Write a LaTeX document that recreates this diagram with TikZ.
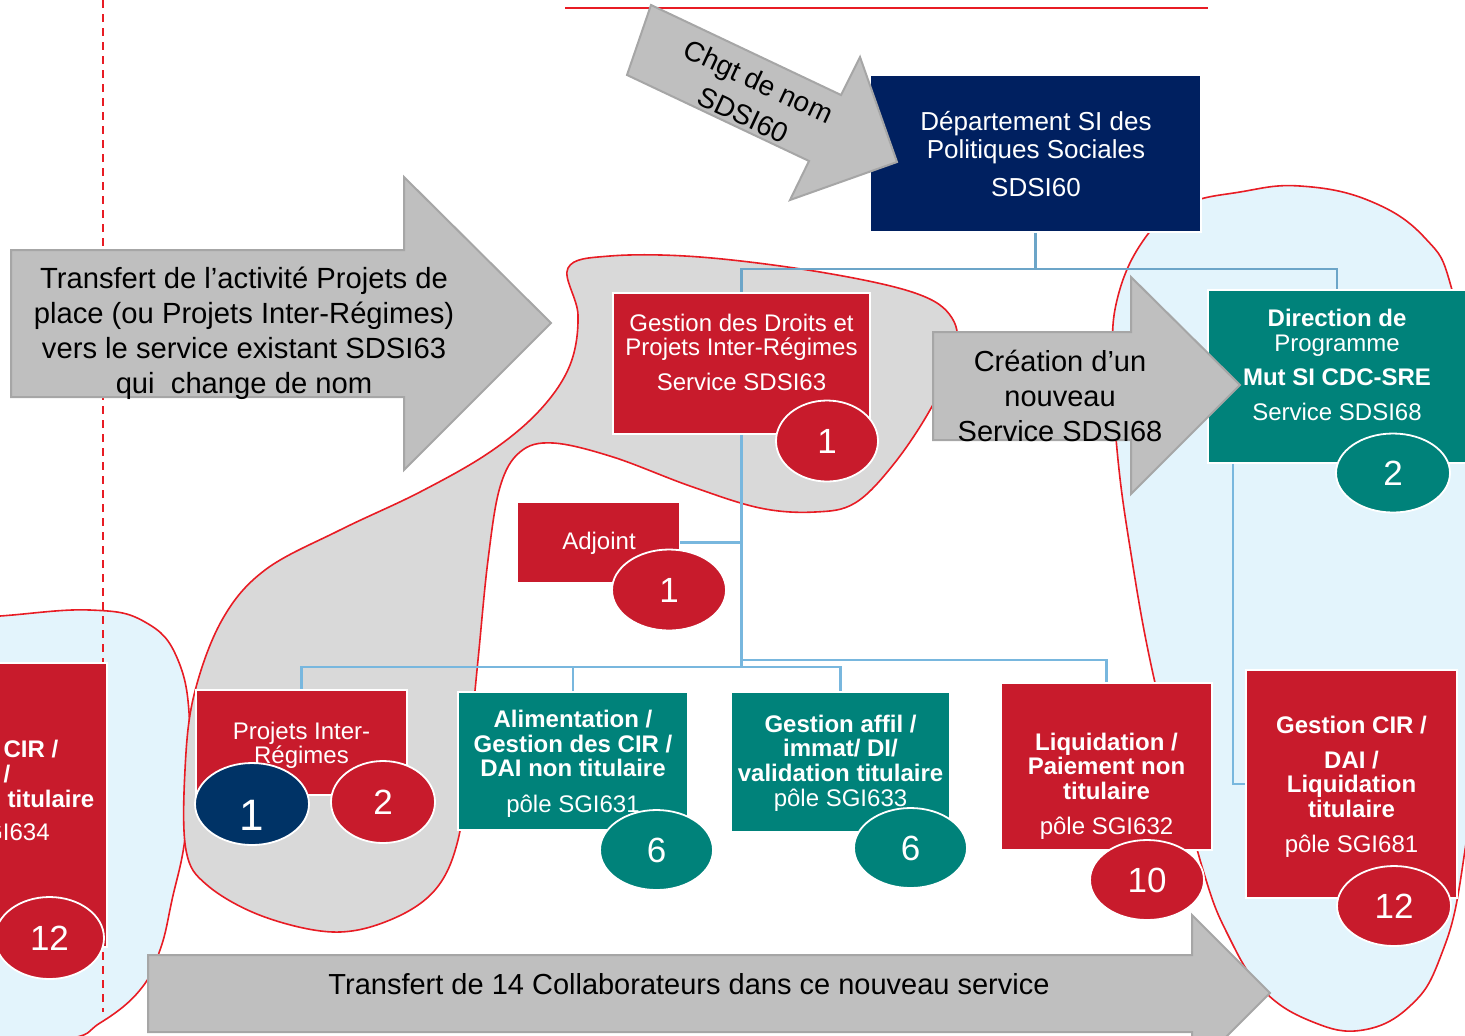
\documentclass[tikz,border=0pt]{standalone}
\usepackage{fontspec}
\setmainfont{Liberation Sans}
\usetikzlibrary{shapes.geometric}
\definecolor{rbox}{RGB}{200,27,44}
\definecolor{tbox}{RGB}{0,130,122}
\definecolor{nbox}{RGB}{0,32,96}
\definecolor{nell}{RGB}{0,51,102}
\definecolor{garr}{RGB}{191,191,191}
\definecolor{gbord}{RGB}{166,166,166}
\definecolor{gblob}{RGB}{217,217,217}
\definecolor{lblob}{RGB}{227,244,252}
\definecolor{connc}{RGB}{120,183,222}
\definecolor{conntop}{RGB}{108,165,200}
\definecolor{bred}{RGB}{232,28,36}
\begin{document}
\begin{tikzpicture}[x=0.5pt,y=-0.5pt,
  box/.style={draw=white, line width=0.9pt, inner sep=0pt},
  ell/.style={ellipse, draw=white, line width=0.9pt, inner sep=0pt, text=white, font=\fontsize{17.5}{20}\selectfont},
  wt/.style={text=white, align=center, inner sep=0pt},
  bt/.style={text=black, align=center, inner sep=0pt},
  conn/.style={draw=connc, line width=1.3pt},
  conn2/.style={draw=conntop, line width=1.3pt},
  garrow/.style={fill=garr, draw=gbord, line width=1pt},
  blobline/.style={draw=bred, line width=0.8pt}]
\useasboundingbox (0,0) rectangle (1465,1035);
\clip (0,0) rectangle (1465,1035);

% blobs
\draw[blobline, fill=lblob] plot[smooth cycle, tension=0.7] coordinates {
 (-80,622) (0,616) (90,610) (145,622) (178,660) (190,730) (186,830) (172,900) (160,950) (140,990) (100,1023) (60,1040) (-80,1050)};
\draw[blobline, fill=lblob] plot[smooth cycle, tension=0.7] coordinates {
 (1145,238) (1185,205) (1240,192) (1300,186) (1370,201) (1425,238) (1452,290) (1475,420) (1478,700) (1462,870) (1440,958) (1410,1006) (1363,1030) (1313,1022) (1263,990) (1228,935) (1203,870) (1172,750) (1150,660) (1132,560) (1118,460) (1113,370) (1117,300)};
\draw[blobline, fill=gblob] plot[smooth cycle, tension=0.6] coordinates {
 (568,268) (610,256) (700,257) (820,272) (915,293) (952,318) (955,355) (930,410) (893,465) (855,503) (815,512) (760,508) (690,486) (613,457) (553,443) (520,452) (500,487) (488,560) (478,660) (468,760) (458,840) (435,890) (390,920) (333,932) (262,916) (207,885) (186,850) (185,770) (194,695) (222,620) (265,570) (340,530) (420,492) (490,452) (540,410) (570,365) (578,315)};

% red lines
\draw[draw=bred, line width=0.8pt] (565,8) -- (1208,8);
\draw[draw=bred, line width=0.8pt, dash pattern=on 4pt off 3pt] (103,0) -- (103,1012);

% boxes
\node[box, fill=nbox, minimum width=165.5pt, minimum height=78.5pt] (dep) at (1035.5,153.5) {};
\node[box, fill=rbox, minimum width=128.5pt, minimum height=70.5pt] (s63) at (741.5,363.5) {};
\node[box, draw=none, fill=rbox, minimum width=80.5pt, minimum height=39.5pt] (adj) at (598.5,542.5) {};
\node[box, fill=rbox, minimum width=105.5pt, minimum height=52.5pt] (pir) at (301.5,742.5) {};
\node[box, fill=tbox, minimum width=115pt, minimum height=69pt] (ali) at (573,761) {};
\node[box, fill=tbox, minimum width=109.5pt, minimum height=70pt] (aff) at (840.5,762) {};
\node[box, fill=rbox, minimum width=105.5pt, minimum height=83.5pt] (liq) at (1106.5,766.5) {};
\node[box, fill=rbox, minimum width=105.5pt, minimum height=114pt] (gcir) at (1351.5,784) {};
\node[box, fill=tbox, minimum width=129pt, minimum height=86.5pt] (dir) at (1337,376.5) {};
\node[box, fill=rbox, minimum width=123.5pt, minimum height=142pt] (lbox) at (-16.5,805) {};

% connectors
\draw[conn2] (dep.south) -- ++(0,36) -| (s63.north);
\draw[conn2] (dep.south) ++(0,36) -| (dir.north);
\coordinate (hubL) at (741.5,667);
\coordinate (hubR) at (741.5,660);
\draw[conn] (s63.south) -- (hubL);
\draw[conn] (hubL) -| (pir.north);
\draw[conn] (hubL) -| (aff.north);
\draw[conn] (ali.north) -- (ali.north |- hubL);
\draw[conn] (hubR) -| (liq.north);
\draw[conn] (adj.east) -- (adj.east -| s63.south);
\draw[conn] (dir.south west) ++(26,0) |- (gcir.west);

% box texts
\node[wt, font=\fontsize{13}{14}\selectfont] (depT) at (1036,154) {Département SI des\\Politiques Sociales\\[5pt]SDSI60};
\node[wt, font=\fontsize{12}{12}\selectfont] (s63T) at (741.5,352) {Gestion des Droits et\\Projets Inter-Régimes\\[5.5pt]Service SDSI63};
\node[wt, font=\fontsize{12}{12}\selectfont] (adjT) at (599,543) {Adjoint};
\node[wt, font=\fontsize{12}{12}\selectfont] (pirT) at (301.5,745) {Projets Inter-\\Régimes};
\node[wt, font=\fontsize{12}{12.25}\selectfont] (aliT) at (573,764) {\textbf{Alimentation /}\\\textbf{Gestion des CIR /}\\\textbf{DAI non titulaire}\\[5.75pt]pôle SGI631};
\node[wt, font=\fontsize{12}{12.35}\selectfont] (affT) at (840.5,763) {\textbf{Gestion affil /}\\\textbf{immat/ DI/}\\\textbf{validation titulaire}\\pôle SGI633};
\node[wt, font=\fontsize{12}{12.25}\selectfont] (liqT) at (1106.5,786) {\textbf{Liquidation /}\\\textbf{Paiement non}\\\textbf{titulaire}\\[5.25pt]pôle SGI632};
\node[wt, font=\fontsize{12}{12.25}\selectfont] (gcirT) at (1351.5,787) {\textbf{Gestion CIR /}\\[5.25pt]\textbf{DAI /}\\\textbf{Liquidation}\\\textbf{titulaire}\\[5.5pt]pôle SGI681};
\node[wt, font=\fontsize{12}{12.5}\selectfont] (dirT) at (1337,365) {\textbf{Direction de}\\Programme\\[4.5pt]\textbf{Mut SI CDC-SRE}\\[5pt]Service SDSI68};
\node[wt, font=\fontsize{12}{12.5}\selectfont] (lboxT) at (-17,793) {\textbf{Gestion CIR /}\\\textbf{DAI /}\\\textbf{Liquidation titulaire}\\[4pt]pôle SGI634};

% ellipses
\node[ell, fill=rbox, minimum width=51pt, minimum height=40.5pt] (e63) at (827,441) {1};
\node[ell, fill=rbox, minimum width=57pt, minimum height=40.5pt] (eadj) at (669,590) {1};
\node[ell, fill=nell, minimum width=57pt, minimum height=41pt] (epir1) at (252,804) {};
\node[text=white, inner sep=0pt, font=\fontsize{22}{24}\selectfont] (epir1T) at (252,815) {1};
\node[ell, fill=rbox, minimum width=52pt, minimum height=41pt] (epir2) at (383,802) {2};
\node[ell, fill=tbox, minimum width=56.5pt, minimum height=40pt] (eali) at (656.5,850) {6};
\node[ell, fill=tbox, minimum width=56.5pt, minimum height=40pt] (eaff) at (910.5,848) {6};
\node[ell, fill=rbox, minimum width=57pt, minimum height=40pt] (eliq) at (1147,880) {10};
\node[ell, fill=rbox, minimum width=57pt, minimum height=40pt] (egcir) at (1394,906) {12};
\node[ell, fill=tbox, minimum width=57pt, minimum height=39.5pt] (edir) at (1393,473) {2};
\node[ell, fill=rbox, minimum width=54.5pt, minimum height=41pt] (elbox) at (49.5,938) {12};

% gray arrows
\draw[garrow] (651,5) -- (841,95) -- (860,57) -- (897,162) -- (790,200) -- (809,161) -- (627,75) -- cycle;
\node[bt, rotate=-25, font=\fontsize{14}{18.5}\selectfont] (chgT) at (751,98) {Chgt de nom\\SDSI60};

\draw[garrow] (11,250) -- (404,250) -- (404,177) -- (551,323) -- (404,470) -- (404,397) -- (11,397) -- cycle;
\node[bt, font=\fontsize{14.6}{17.5}\selectfont] (leftT) at (244,333) {Transfert de l’activité Projets de\\place (ou Projets Inter-Régimes)\\vers le service existant SDSI63\\qui\ \ change de nom};

\draw[garrow] (933,332) -- (1131,332) -- (1131,277) -- (1240,385) -- (1131,494) -- (1131,440) -- (933,440) -- cycle;
\node[bt, font=\fontsize{14.5}{17.5}\selectfont] (creT) at (1060,396) {Création d’un\\nouveau\\Service SDSI68};

\draw[garrow] (148,955) -- (1192,955) -- (1192,915) -- (1270,993) -- (1192,1071) -- (1192,1032) -- (148,1032) -- cycle;
\node[bt, font=\fontsize{14.5}{17.5}\selectfont] (botT) at (689,984) {Transfert de 14 Collaborateurs dans ce nouveau service};
\end{tikzpicture}
\end{document}
